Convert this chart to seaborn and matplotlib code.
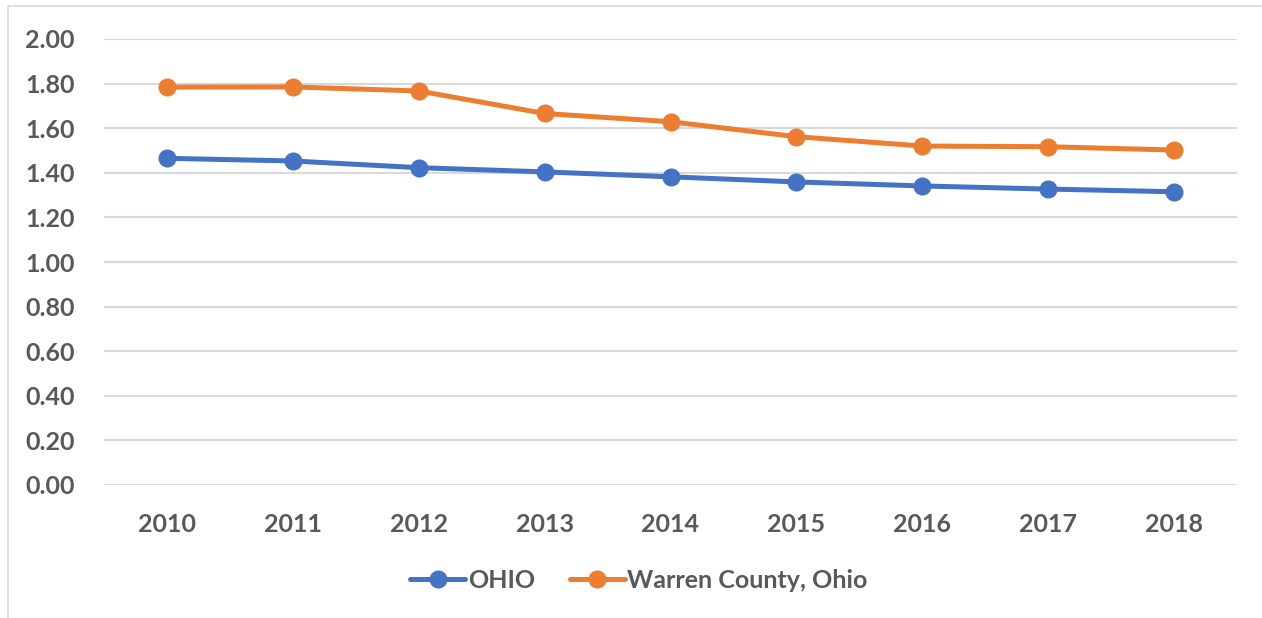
import pandas as pd
import matplotlib.pyplot as plt
import seaborn as sns
from matplotlib.lines import Line2D
from matplotlib.patches import Rectangle

years = [2010, 2011, 2012, 2013, 2014, 2015, 2016, 2017, 2018]
ohio = [1.465, 1.453, 1.423, 1.404, 1.382, 1.359, 1.341, 1.327, 1.315]
warren = [1.784, 1.785, 1.767, 1.666, 1.629, 1.562, 1.520, 1.517, 1.502]
series_names = ['OHIO', 'Warren County, Ohio']
colors = ['#4472C4', '#ED7D31']
yticks = [0.0, 0.2, 0.4, 0.6, 0.8, 1.0, 1.2, 1.4, 1.6, 1.8, 2.0]

df = pd.DataFrame({
    'year': years * 2,
    'value': ohio + warren,
    'series': [series_names[0]] * len(years) + [series_names[1]] * len(years),
})

sns.set_style('white')
plt.rcParams['font.family'] = ['Lato', 'DejaVu Sans']
plt.rcParams['font.weight'] = 'bold'

W, H = 1262, 618
fig = plt.figure(figsize=(W / 100, H / 100), dpi=100)
ax = fig.add_axes([104 / W, 1 - 485 / H, (1237 - 104) / W, (485 - 39) / H])

sns.lineplot(data=df, x='year', y='value', hue='series', palette=colors,
             marker='o', markersize=13, markeredgewidth=0, linewidth=3.6,
             legend=False, ax=ax, zorder=3)

ax.set_xlim(2009.5, 2018.5)
ax.set_ylim(0, 2.0)
ax.set_xticks(years)
ax.set_xticklabels([str(y) for y in years])
ax.set_yticks(yticks)
ax.set_yticklabels([f'{v:.2f}' for v in yticks])
ax.set_xlabel('')
ax.set_ylabel('')
ax.grid(axis='y', color='#D9D9D9', linewidth=1.5)
ax.grid(axis='x', visible=False)
ax.set_axisbelow(True)
for s in ax.spines.values():
    s.set_visible(False)
ax.tick_params(axis='both', length=0, labelsize=18, labelcolor='#595959')
ax.tick_params(axis='x', pad=20)
ax.tick_params(axis='y', pad=21)
for lab in ax.get_xticklabels() + ax.get_yticklabels():
    lab.set_fontweight('bold')

# chart area border
fig.patches.append(Rectangle((8 / W, -0.05), 1.2, 1 - 6 / H + 0.05,
                             transform=fig.transFigure, fill=False,
                             edgecolor='#D9D9D9', linewidth=1.2))

handles = [Line2D([0], [0], color=c, linewidth=3.6, marker='o', markersize=13,
                  markeredgewidth=0) for c in colors]
leg = fig.legend(handles, series_names, loc='center', ncol=2,
                 bbox_to_anchor=(639 / W, 1 - 580 / H), frameon=False,
                 handlelength=2.2, handletextpad=0.1, columnspacing=1.4,
                 prop={'size': 18, 'weight': 'bold'})
for t in leg.get_texts():
    t.set_color('#595959')

fig.savefig('out.png', dpi=100)
